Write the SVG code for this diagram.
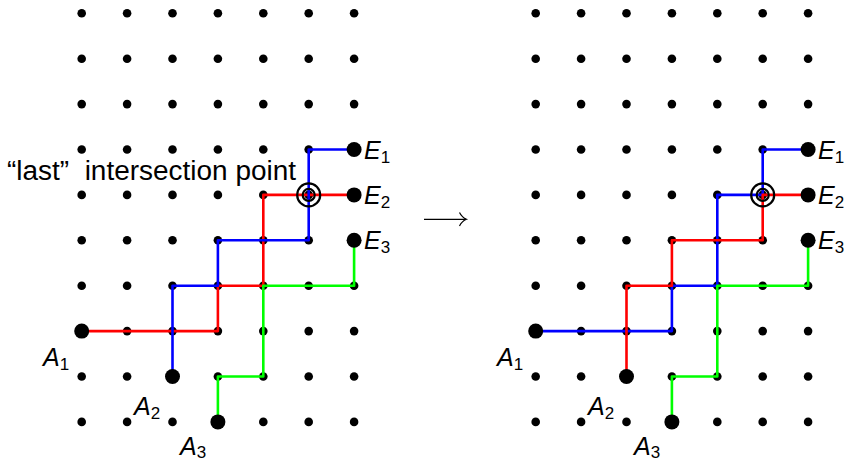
<svg xmlns="http://www.w3.org/2000/svg" xmlns:xlink="http://www.w3.org/1999/xlink" width="846" height="462" viewBox="0 0 846 462">
<style>
.dot{fill:#000}
.big{fill:#000}
.path{fill:none;stroke-width:2.6;stroke-linejoin:round;stroke-linecap:round}
.red{stroke:#ff0000}
.blue{stroke:#0000ff}
.green{stroke:#00ff00}
.ring{fill:none;stroke:#000;stroke-width:2.2}
.lbl{font-family:"Liberation Sans","DejaVu Sans",sans-serif;font-style:italic;font-size:25px;fill:#000}
.sub{font-style:normal;font-size:17px}
.note{font-family:"Liberation Sans","DejaVu Sans",sans-serif;font-size:27px;fill:#000}
</style>
<defs>
<g id="row">
<circle class="dot" cx="81.7" cy="0" r="4.3"/>
<circle class="dot" cx="127.1" cy="0" r="4.3"/>
<circle class="dot" cx="172.5" cy="0" r="4.3"/>
<circle class="dot" cx="217.9" cy="0" r="4.3"/>
<circle class="dot" cx="263.3" cy="0" r="4.3"/>
<circle class="dot" cx="308.7" cy="0" r="4.3"/>
<circle class="dot" cx="354.1" cy="0" r="4.3"/>
</g>
<g id="grid">
<use xlink:href="#row" y="13.3"/>
<use xlink:href="#row" y="58.7"/>
<use xlink:href="#row" y="104.1"/>
<use xlink:href="#row" y="149.5"/>
<use xlink:href="#row" y="194.9"/>
<use xlink:href="#row" y="240.3"/>
<use xlink:href="#row" y="285.7"/>
<use xlink:href="#row" y="331.1"/>
<use xlink:href="#row" y="376.5"/>
<use xlink:href="#row" y="421.9"/>
</g>
</defs>
<g id="grid-left"><use xlink:href="#grid"/></g>
<g id="grid-right"><use xlink:href="#grid" x="454"/></g>
<g id="connectors">
<path class="path red" d="M81.7,331.1 H217.9 V285.7 H263.3 V194.9 H354.1"/>
<path class="path blue" d="M172.5,376.5 V285.7 H217.9 V240.3 H308.7 V149.5 H354.1"/>
<path class="path green" d="M217.9,421.9 V376.5 H263.3 V285.7 H354.1 V240.3"/>
<path class="path blue" d="M535.7,331.1 H671.9 V285.7 H717.3 V194.9 H762.7 V149.5 H808.1"/>
<path class="path red" d="M626.5,376.5 V285.7 H671.9 V240.3 H762.7 V194.9 H808.1"/>
<path class="path green" d="M671.9,421.9 V376.5 H717.3 V285.7 H808.1 V240.3"/>
</g>
<g id="left-A1"><circle class="big" cx="81.7" cy="331.1" r="7.5"/><text class="lbl" x="43" y="366">A<tspan class="sub" dy="4">1</tspan></text></g>
<g id="left-A2"><circle class="big" cx="172.5" cy="376.5" r="7.5"/><text class="lbl" x="134" y="415">A<tspan class="sub" dy="4">2</tspan></text></g>
<g id="left-A3"><circle class="big" cx="217.9" cy="421.9" r="7.5"/><text class="lbl" x="180" y="455">A<tspan class="sub" dy="3">3</tspan></text></g>
<g id="left-E1"><circle class="big" cx="354.1" cy="149.5" r="7.5"/><text class="lbl" x="364" y="159">E<tspan class="sub" dy="4">1</tspan></text></g>
<g id="left-E2"><circle class="big" cx="354.1" cy="194.9" r="7.5"/><text class="lbl" x="364" y="204">E<tspan class="sub" dy="4">2</tspan></text></g>
<g id="left-E3"><circle class="big" cx="354.1" cy="240.3" r="7.5"/><text class="lbl" x="364" y="249">E<tspan class="sub" dy="4">3</tspan></text></g>
<g id="left-intersection"><circle class="ring" cx="308.7" cy="194.9" r="11.5"/><circle class="ring" cx="308.7" cy="194.9" r="6"/></g>
<g id="note"><text class="note" x="7" y="180" xml:space="preserve" textLength="289" lengthAdjust="spacingAndGlyphs">“last”  intersection point</text></g>
<g id="arrow"><path d="M424,219.3 H466" fill="none" stroke="#000" stroke-width="1.2"/><path d="M459.5,212.5 Q462,217.5 466.5,219.3 Q462,221 459.5,226" fill="none" stroke="#000" stroke-width="1.2"/></g>
<g id="right-A1"><circle class="big" cx="535.7" cy="331.1" r="7.5"/><text class="lbl" x="497" y="366">A<tspan class="sub" dy="4">1</tspan></text></g>
<g id="right-A2"><circle class="big" cx="626.5" cy="376.5" r="7.5"/><text class="lbl" x="588" y="415">A<tspan class="sub" dy="4">2</tspan></text></g>
<g id="right-A3"><circle class="big" cx="671.9" cy="421.9" r="7.5"/><text class="lbl" x="634" y="455">A<tspan class="sub" dy="3">3</tspan></text></g>
<g id="right-E1"><circle class="big" cx="808.1" cy="149.5" r="7.5"/><text class="lbl" x="818" y="159">E<tspan class="sub" dy="4">1</tspan></text></g>
<g id="right-E2"><circle class="big" cx="808.1" cy="194.9" r="7.5"/><text class="lbl" x="818" y="204">E<tspan class="sub" dy="4">2</tspan></text></g>
<g id="right-E3"><circle class="big" cx="808.1" cy="240.3" r="7.5"/><text class="lbl" x="818" y="249">E<tspan class="sub" dy="4">3</tspan></text></g>
<g id="right-intersection"><circle class="ring" cx="762.7" cy="194.9" r="11.5"/><circle class="ring" cx="762.7" cy="194.9" r="6"/></g>
</svg>
